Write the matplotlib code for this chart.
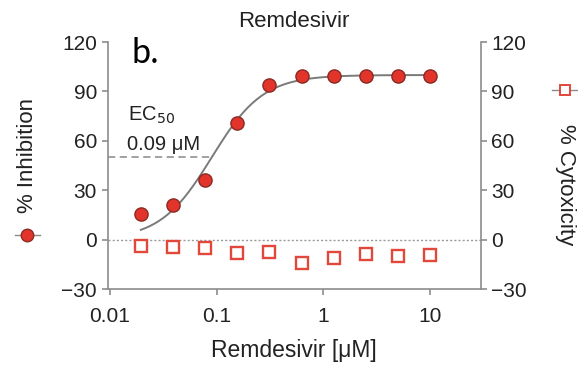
import numpy as np
import matplotlib.pyplot as plt
from matplotlib.lines import Line2D

plt.rcParams['font.family'] = ['Liberation Sans', 'DejaVu Sans']

# data
conc = [0.0195, 0.039, 0.078, 0.156, 0.3125, 0.625, 1.25, 2.5, 5, 10]
inhibition = [15.5, 21, 36.5, 71, 94, 99.5, 99.5, 99.5, 99.5, 99.5]
cytotoxicity = [-4, -4.5, -5, -8, -7.5, -14, -11, -8.5, -10, -9.5]

# fitted dose-response curve parameters
ec50 = 0.09
hill = 1.8
top = 100
bottom = 0

yticks = [-30, 0, 30, 60, 90, 120]
yticklabels = ['\u221230', '0', '30', '60', '90', '120']
xticks = [0.01, 0.1, 1, 10]
xticklabels = ['0.01', '0.1', '1', '10']

red = '#e3342b'
grey = '#8c8c8c'
txt = '#222222'

fig = plt.figure(figsize=(5.78, 3.66), dpi=100)
ax = fig.add_axes([0.186, 0.21, 0.646, 0.675])

xs = np.logspace(np.log10(conc[0]), np.log10(conc[-1]), 200)
fit = bottom + (top - bottom) / (1 + (ec50 / xs) ** hill)
ax.plot(xs, fit, color='#7a7a7a', lw=1.4, zorder=2)

ax.axhline(0, color='#9a9a9a', lw=1.0, ls=(0, (1.5, 1.5)), zorder=1)
ax.plot([0.0095, ec50], [50, 50], color='#9a9a9a', lw=1.3, ls=(0, (4, 2.5)), zorder=1)

ax.plot(conc, inhibition, 'o', ms=9.5, mfc=red, mec='#8a2a22', mew=1.0, zorder=3)
ax.plot(conc, cytotoxicity, 's', ms=8.5, mfc='white', mec='#e2473b', mew=1.7, zorder=3)

ax.set_xscale('log')
ax.set_xlim(0.0095, 30)
ax.set_ylim(-30, 120)
ax.set_xticks(xticks)
ax.set_xticklabels(xticklabels)
ax.minorticks_off()
ax.set_yticks(yticks)
ax.set_yticklabels(yticklabels)

for s in ['left', 'right', 'bottom']:
    ax.spines[s].set_color(grey)
    ax.spines[s].set_linewidth(1.2)
ax.spines['top'].set_visible(False)
ax.tick_params(colors=grey, labelcolor=txt, labelsize=15, length=4, width=1.2)
ax.tick_params(axis='x', pad=9)

ax2 = ax.twinx()
ax2.set_ylim(-30, 120)
ax2.set_yticks(yticks)
ax2.set_yticklabels(yticklabels)
for s in ax2.spines.values():
    s.set_visible(False)
ax2.tick_params(colors=grey, labelcolor=txt, labelsize=15, length=4, width=1.2)

ax.set_xlabel('Remdesivir [\u03bcM]', fontsize=16.5, color=txt, labelpad=9)
ax.set_title('Remdesivir', fontsize=16, color=txt, pad=11)

fig.text(0.047, 0.574, '% Inhibition', rotation=90, fontsize=16, color=txt,
         ha='center', va='center')
fig.text(0.978, 0.495, '% Cytoxicity', rotation=-90, fontsize=16, color=txt,
         ha='center', va='center')

# legend-style marker swatches next to the axis labels
fig.add_artist(Line2D([0.026, 0.069], [0.358, 0.358], color=grey, lw=1,
                      transform=fig.transFigure))
fig.add_artist(Line2D([0.047], [0.358], marker='o', ms=9, mfc=red, mec='#8a2a22',
                      lw=0, transform=fig.transFigure))
fig.add_artist(Line2D([0.955, 0.998], [0.754, 0.754], color=grey, lw=1,
                      transform=fig.transFigure))
fig.add_artist(Line2D([0.978], [0.754], marker='s', ms=7, mfc='white', mec='#e2473b',
                      mew=1.4, lw=0, transform=fig.transFigure))

ax.text(0.0148, 72, 'EC$_{50}$', fontsize=14.5, color=txt, va='baseline')
ax.text(0.0146, 54.5, '0.09 \u03bcM', fontsize=14.5, color=txt, va='baseline')

fig.text(0.228, 0.828, 'b.', fontsize=26, color='black', va='baseline',
         family=['Carlito', 'Liberation Sans', 'DejaVu Sans'])

fig.savefig('out.png', dpi=100)
